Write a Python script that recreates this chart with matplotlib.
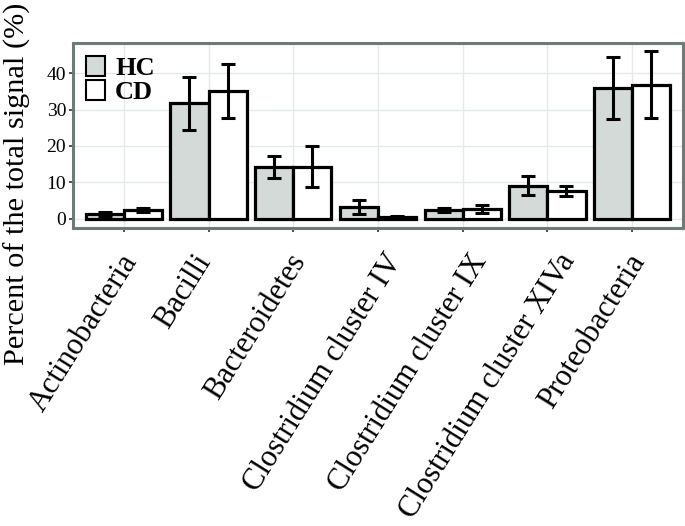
import matplotlib
matplotlib.use("Agg")
import matplotlib.pyplot as plt
import matplotlib.transforms as mtransforms
import numpy as np
from matplotlib.patches import Patch

categories = ["Actinobacteria", "Bacilli", "Bacteroidetes", "Clostridium cluster IV",
              "Clostridium cluster IX", "Clostridium cluster XIVa", "Proteobacteria"]
hc_mean = [1.2, 31.7, 14.1, 3.1, 2.3, 9.1, 36.0]
hc_err  = [0.5, 7.4, 3.0, 1.9, 0.6, 2.7, 8.6]
cd_mean = [2.3, 35.1, 14.3, 0.5, 2.6, 7.6, 36.8]
cd_err  = [0.6, 7.4, 5.6, 0.2, 1.2, 1.4, 9.2]
groups  = ["HC", "CD"]

plt.rcParams["font.family"] = ["Liberation Serif", "DejaVu Serif"]

fig = plt.figure(figsize=(6.85, 5.26), dpi=100)
ax = fig.add_axes([0.1066, 0.5665, 0.8904, 0.3515])

x = np.arange(len(categories))
w = 0.45
hc_col = "#d3dad8"
edge_lw = 2.3

ax.bar(x - w / 2, hc_mean, w, color=hc_col, edgecolor="black", linewidth=edge_lw, zorder=3)
ax.bar(x + w / 2, cd_mean, w, color="white", edgecolor="black", linewidth=edge_lw, zorder=3)
ax.errorbar(x - w / 2, hc_mean, yerr=hc_err, fmt="none", ecolor="black",
            elinewidth=2.2, capsize=5, capthick=2.2, zorder=4)
ax.errorbar(x + w / 2, cd_mean, yerr=cd_err, fmt="none", ecolor="black",
            elinewidth=2.2, capsize=5, capthick=2.2, zorder=4)

ax.set_xlim(-0.6, len(categories) - 0.4)
ax.set_ylim(-2.6, 48.3)
ax.set_yticks([0, 10, 20, 30, 40])
ax.set_xticks(x)
ax.set_xticklabels(categories, rotation=58, ha="right", rotation_mode="anchor",
                   fontsize=22)
ax.tick_params(axis="y", labelsize=14, length=3, width=1.2, color="#333333", pad=2)
ax.tick_params(axis="x", length=3, width=1.2, color="#333333", pad=12)
ax.grid(True, color="#e5eae9", linewidth=1.0, zorder=0)
ax.set_axisbelow(True)
for s in ax.spines.values():
    s.set_color("#6f7b79")
    s.set_linewidth(2.2)

# longer labels poke out further right of their tick in the original (hjust < 1)
fig.canvas.draw()
for lab in ax.get_xticklabels():
    wpx = lab.get_window_extent().width
    dx = 0.21 * wpx - 30
    lab.set_transform(lab.get_transform() +
                      mtransforms.ScaledTranslation(dx / 100, 0, fig.dpi_scale_trans))

# y label sits far left, centred around the upper part of the figure
fig.text(4 / 685, 1 - 184 / 526, "Percent of the total signal (%)", rotation=90,
         fontsize=21.8, ha="left", va="center")

handles = [Patch(facecolor=hc_col, edgecolor="black", linewidth=1.5),
           Patch(facecolor="white", edgecolor="black", linewidth=1.5)]
leg = ax.legend(handles, groups, loc="upper left", frameon=False,
                prop={"weight": "bold", "size": 19, "family": "Liberation Serif"},
                handlelength=0.7, handleheight=0.75, handletextpad=0.4,
                labelspacing=0.0, borderaxespad=0.2, borderpad=0.3)

fig.savefig("out.png", dpi=100)
